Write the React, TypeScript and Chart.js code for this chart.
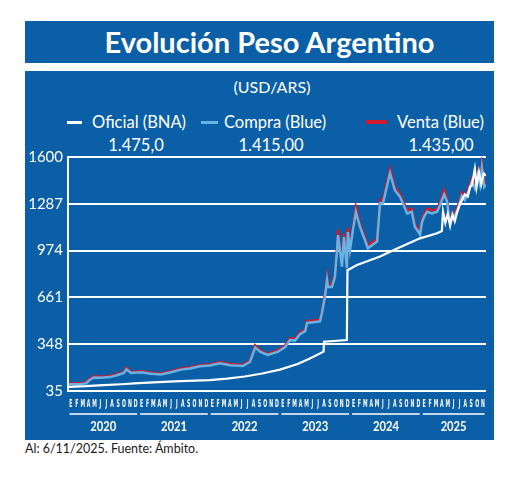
import React, { useEffect, useRef } from "react";
import { Chart, registerables } from "chart.js";
Chart.register(...registerables);

const BLUE_BG = "#0b5fa6";
const LIGHT_BLUE = "#66b4e4";
const RED = "#d3192b";
const WHITE = "#ffffff";

const monthLetters = ["E", "F", "M", "A", "M", "J", "J", "A", "S", "O", "N", "D"];
const years = ["2020", "2021", "2022", "2023", "2024", "2025"];
const yTicks = [35, 348, 661, 974, 1287, 1600];
const legendLabels = ["Oficial (BNA)", "Compra (Blue)", "Venta (Blue)"];
const lastValues = ["1.475,0", "1.415,00", "1.435,00"];

const blueDates = [
  "2020-01-06", "2020-03-01", "2020-04-03", "2020-04-18", "2020-05-13", "2020-06-19",
  "2020-08-04", "2020-09-10", "2020-10-16", "2020-10-29", "2020-11-22", "2021-01-13",
  "2021-03-04", "2021-04-25", "2021-06-16", "2021-08-07", "2021-09-22", "2021-11-13",
  "2022-01-04", "2022-02-25", "2022-04-16", "2022-06-22", "2022-07-28", "2022-08-25",
  "2022-09-22", "2022-10-28", "2022-12-19", "2023-01-28", "2023-02-22", "2023-03-18",
  "2023-04-13", "2023-05-10", "2023-05-19", "2023-07-25", "2023-08-05", "2023-08-20",
  "2023-09-01", "2023-09-06", "2023-09-26", "2023-10-11", "2023-10-22", "2023-10-27",
  "2023-11-17", "2023-11-27", "2023-12-12", "2023-12-17", "2023-12-28", "2024-01-13",
  "2024-01-28", "2024-02-19", "2024-03-14", "2024-03-29", "2024-04-10", "2024-05-16",
  "2024-06-01", "2024-06-16", "2024-07-22", "2024-08-16", "2024-09-13", "2024-10-19",
  "2024-11-13", "2024-11-28", "2024-12-16", "2024-12-25", "2025-01-04", "2025-01-16",
  "2025-02-01", "2025-02-25", "2025-03-22", "2025-04-07", "2025-04-28", "2025-05-13",
  "2025-05-22", "2025-06-07", "2025-06-22", "2025-07-07", "2025-07-19", "2025-07-28",
  "2025-08-13", "2025-08-28", "2025-09-19", "2025-10-04", "2025-10-19", "2025-11-01",
  "2025-11-10", "2025-11-22", "2025-11-30",
];

const compraBlue = [
  80, 80, 86, 105, 125, 124,
  128, 140, 155, 180, 155, 160,
  150, 145, 160, 178, 185, 200,
  205, 220, 208, 202, 229, 325,
  296, 276, 296, 329, 376, 372,
  415, 435, 490, 500, 557, 664,
  777, 730, 730, 797, 978, 1078,
  866, 1064, 858, 1099, 978, 1112,
  1232, 1132, 1045, 990, 1000, 1034,
  1290, 1290, 1491, 1379, 1334, 1223,
  1234, 1134, 1100, 1080, 1160, 1201,
  1234, 1223, 1234, 1279, 1350, 1301,
  1200, 1180, 1210, 1250, 1301, 1340,
  1312, 1357, 1435, 1390, 1480, 1413,
  1525, 1400, 1415,
];

const ventaBlue = [
  86, 86, 92, 113, 134, 131,
  135, 147, 162, 191, 162, 167,
  157, 152, 167, 186, 193, 208,
  213, 228, 215, 209, 238, 340,
  305, 284, 305, 340, 388, 382,
  426, 446, 502, 512, 572, 685,
  800, 748, 748, 818, 1003, 1115,
  886, 1090, 876, 1125, 998, 1135,
  1265, 1153, 1063, 1008, 1018, 1053,
  1315, 1312, 1518, 1400, 1352, 1242,
  1254, 1152, 1118, 1098, 1178, 1222,
  1255, 1242, 1255, 1300, 1378, 1320,
  1218, 1198, 1228, 1270, 1322, 1362,
  1330, 1378, 1455, 1408, 1500, 1431,
  1550, 1418, 1435,
];

const oficialDates = [
  "2020-01-06", "2020-04-01", "2020-07-01", "2020-10-01", "2021-01-01", "2021-07-01",
  "2022-01-01", "2022-04-01", "2022-07-01", "2022-10-01", "2023-01-01", "2023-04-01",
  "2023-06-01", "2023-08-13", "2023-08-16", "2023-12-12", "2023-12-15", "2024-02-04",
  "2024-06-01", "2024-09-01", "2024-12-25", "2025-03-22", "2025-04-16", "2025-04-22",
  "2025-05-04", "2025-05-16", "2025-05-28", "2025-06-10", "2025-06-22", "2025-07-04",
  "2025-07-19", "2025-07-28", "2025-08-13", "2025-08-28", "2025-09-10", "2025-09-19",
  "2025-10-04", "2025-10-13", "2025-10-25", "2025-11-07", "2025-11-19", "2025-11-30",
];

const oficialBNA = [
  63, 67, 74, 80, 88, 100,
  108, 118, 132, 152, 178, 215,
  250, 298, 365, 376, 843, 878,
  935, 990, 1056, 1090, 1105, 1234,
  1160, 1220, 1140, 1215, 1170, 1230,
  1290, 1310, 1350, 1335, 1400, 1410,
  1520, 1400, 1500, 1420, 1490, 1475,
];

const TOTAL_MONTHS = 71;

function monthIndex(d: string): number {
  const [y, m, day] = d.split("-").map(Number);
  return (y - 2020) * 12 + (m - 1) + (day - 1) / 30;
}

const axisLabelsPlugin = {
  id: "monthYearLabels",
  afterDraw(chart: any) {
    const xs = chart.scales.x;
    const area = chart.chartArea;
    const ctx = chart.ctx;
    ctx.save();
    ctx.fillStyle = WHITE;
    ctx.textAlign = "center";
    ctx.textBaseline = "middle";
    ctx.font = "bold 11px 'DejaVu Sans', sans-serif";
    for (let i = 0; i < TOTAL_MONTHS; i++) {
      const px = xs.getPixelForValue(i + 0.5);
      ctx.save();
      ctx.translate(px, area.bottom + 13);
      ctx.scale(0.42, 1);
      ctx.fillText(monthLetters[i % 12], 0, 0);
      ctx.restore();
    }
    years.forEach((yr, i) => {
      const start = i * 12;
      const end = Math.min((i + 1) * 12, TOTAL_MONTHS);
      const x0 = xs.getPixelForValue(start) + 1.5;
      const x1 = xs.getPixelForValue(end) - 1.5;
      ctx.strokeStyle = WHITE;
      ctx.lineWidth = 1.5;
      ctx.beginPath();
      ctx.moveTo(x0, area.bottom + 23);
      ctx.lineTo(x1, area.bottom + 23);
      ctx.stroke();
      ctx.save();
      ctx.translate((x0 + x1) / 2, area.bottom + 35);
      ctx.scale(0.8, 1);
      ctx.font = "bold 14px Lato, sans-serif";
      ctx.fillText(yr, 0, 0);
      ctx.restore();
    });
    ctx.restore();
  },
};

export default function App() {
  const canvasRef = useRef<HTMLCanvasElement | null>(null);

  useEffect(() => {
    if (!canvasRef.current) return;
    const chart = new Chart(canvasRef.current, {
      type: "line",
      data: {
        datasets: [
          {
            label: legendLabels[0],
            data: oficialDates.map((d, i) => ({ x: monthIndex(d), y: oficialBNA[i] })),
            borderColor: WHITE,
            borderWidth: 2.2,
            pointRadius: 0,
            tension: 0,
            order: 0,
          },
          {
            label: legendLabels[1],
            data: blueDates.map((d, i) => ({ x: monthIndex(d), y: compraBlue[i] })),
            borderColor: LIGHT_BLUE,
            borderWidth: 2.5,
            pointRadius: 0,
            tension: 0,
            order: 1,
          },
          {
            label: legendLabels[2],
            data: blueDates.map((d, i) => ({ x: monthIndex(d), y: ventaBlue[i] })),
            borderColor: RED,
            borderWidth: 2.5,
            pointRadius: 0,
            tension: 0,
            order: 2,
          },
        ],
      },
      options: {
        animation: false,
        responsive: false,
        maintainAspectRatio: false,
        layout: { padding: { top: 17, right: 8, left: 0, bottom: 0 } },
        plugins: { legend: { display: false }, tooltip: { enabled: false } },
        scales: {
          x: {
            type: "linear",
            min: 0,
            max: TOTAL_MONTHS,
            grid: { display: false },
            border: { display: false },
            afterFit: (scale: any) => {
              scale.height = 49;
            },
            ticks: { display: false },
          },
          y: {
            type: "linear",
            min: 35,
            max: 1600,
            grid: { color: WHITE, lineWidth: 2, drawTicks: false },
            border: { display: true, color: WHITE, width: 2 },
            afterBuildTicks: (scale: any) => {
              scale.ticks = yTicks.map((v) => ({ value: v }));
            },
            afterFit: (scale: any) => {
              scale.width = 43;
            },
            ticks: {
              padding: 5,
              color: WHITE,
              font: { family: "Lato, sans-serif", size: 15 },
              callback: (v: any) => String(v),
            },
          },
        },
      },
      plugins: [axisLabelsPlugin],
    });
    return () => chart.destroy();
  }, []);

  const abs = (s: React.CSSProperties): React.CSSProperties => ({ position: "absolute", ...s });
  const textStyle: React.CSSProperties = {
    position: "absolute",
    color: WHITE,
    fontSize: 16.5,
    whiteSpace: "nowrap",
    lineHeight: "20px",
  };

  return (
    <div
      style={{
        position: "absolute",
        left: 0,
        top: 0,
        width: 520,
        height: 477,
        background: "#ffffff",
        fontFamily: "Lato, 'Open Sans', sans-serif",
        overflow: "hidden",
      }}
    >
      <div
        style={abs({
          left: 25,
          top: 21,
          width: 469,
          height: 42,
          background: BLUE_BG,
          color: WHITE,
          fontWeight: 700,
          fontSize: 29,
          lineHeight: "42px",
          textAlign: "center",
          paddingLeft: 20,
          boxSizing: "border-box",
        })}
      >
        Evolución Peso Argentino
      </div>
      <div style={abs({ left: 25, top: 71, width: 469, height: 369, background: BLUE_BG })} />
      <div style={{ ...textStyle, left: 272, top: 77, fontSize: 16, transform: "translateX(-50%)" }}>(USD/ARS)</div>

      <div style={abs({ left: 67, top: 121, width: 15, height: 3, background: WHITE })} />
      <div style={{ ...textStyle, left: 92, top: 112 }}>{legendLabels[0]}</div>
      <div style={abs({ left: 201, top: 121, width: 17, height: 3, background: LIGHT_BLUE })} />
      <div style={{ ...textStyle, left: 224, top: 112 }}>{legendLabels[1]}</div>
      <div style={abs({ left: 366, top: 120, width: 21, height: 4, background: RED })} />
      <div style={{ ...textStyle, left: 397, top: 112 }}>{legendLabels[2]}</div>

      <div style={{ ...textStyle, left: 136, top: 135, transform: "translateX(-50%)" }}>{lastValues[0]}</div>
      <div style={{ ...textStyle, left: 271, top: 135, transform: "translateX(-50%)" }}>{lastValues[1]}</div>
      <div style={{ ...textStyle, left: 441, top: 135, transform: "translateX(-50%)" }}>{lastValues[2]}</div>

      <canvas
        ref={canvasRef}
        width={469}
        height={300}
        style={abs({ left: 25, top: 140, width: 469, height: 300 })}
      />

      <div style={abs({ left: 25, top: 441, fontSize: 12.5, color: "#1a1a1a", whiteSpace: "nowrap" })}>
        Al: 6/11/2025. Fuente: Ámbito.
      </div>
    </div>
  );
}
